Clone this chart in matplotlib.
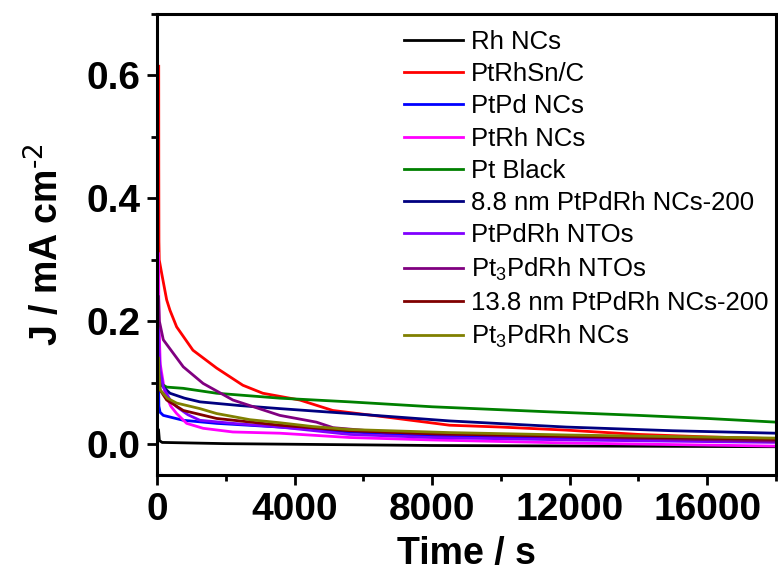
import numpy as np
import matplotlib
matplotlib.use("Agg")
import matplotlib.pyplot as plt
from matplotlib.ticker import MultipleLocator

plt.rcParams['font.family'] = ['Liberation Sans', 'DejaVu Sans']
plt.rcParams['mathtext.default'] = 'regular'

# --- data (time in s, current density in mA cm^-2) ---
labels = ["Rh NCs", "PtRhSn/C", "PtPd NCs", "PtRh NCs", "Pt Black",
          "8.8 nm PtPdRh NCs-200", "PtPdRh NTOs", "Pt$_3$PdRh NTOs",
          "13.8 nm PtPdRh NCs-200", "Pt$_3$PdRh NCs"]
colors = ["#000000", "#FF0000", "#0000FF", "#FF00FF", "#008000",
          "#000080", "#8000FF", "#800080", "#800000", "#808000"]

t_rh = [45, 70, 150, 2000, 8000, 18000]
j_rh = [0.023, 0.006, 0.003, 0.001, -0.002, -0.004]

t_ptrhsn = [50, 52, 56, 65, 136, 281, 377, 571, 1045, 1733, 2497, 3077,
            4151, 5110, 6560, 8506, 10000, 11900, 14000, 16000, 18000]
j_ptrhsn = [0.615, 0.45, 0.33, 0.30, 0.278, 0.235, 0.218, 0.191, 0.153, 0.124,
            0.096, 0.083, 0.072, 0.055, 0.045, 0.031, 0.028, 0.023,
            0.016, 0.012, 0.009]

t_ptpd = [45, 55, 90, 183, 764, 1733, 3570, 5600, 8000, 12000, 15000, 18000]
j_ptpd = [0.10, 0.062, 0.052, 0.047, 0.039, 0.034, 0.028, 0.020,
          0.014, 0.010, 0.008, 0.006]

t_ptrh = [45, 55, 95, 232, 400, 571, 862, 1340, 2206, 3570, 5600, 8000, 12000, 18000]
j_ptrh = [0.31, 0.20, 0.13, 0.083, 0.062, 0.050, 0.034, 0.026, 0.020, 0.018,
          0.011, 0.007, 0.002, -0.003]

t_ptblack = [45, 70, 281, 764, 1733, 3570, 5603, 8000, 11300, 14000, 16000, 18000]
j_ptblack = [0.14, 0.10, 0.093, 0.091, 0.083, 0.075, 0.069, 0.061,
             0.053, 0.047, 0.042, 0.036]

t_nc88 = [45, 70, 150, 377, 800, 1248, 2400, 3570, 5603, 8500, 11900, 15000, 18000]
j_nc88 = [0.14, 0.11, 0.095, 0.083, 0.075, 0.069, 0.063, 0.058, 0.050, 0.038,
          0.028, 0.022, 0.018]

t_nto = [45, 60, 95, 183, 371, 571, 900, 1248, 2206, 3570, 5600, 8000, 12000, 18000]
j_nto = [0.20, 0.15, 0.12, 0.093, 0.073, 0.061, 0.048, 0.039, 0.034, 0.028,
         0.016, 0.011, 0.007, 0.003]

t_pt3nto = [45, 70, 183, 764, 1340, 2206, 3570, 4635, 5119, 6570, 8000, 12000, 18000]
j_pt3nto = [0.24, 0.20, 0.170, 0.126, 0.099, 0.072, 0.047, 0.036,
            0.027, 0.020, 0.017, 0.012, 0.005]

t_nc138 = [45, 70, 281, 764, 1733, 3570, 5600, 8000, 12000, 18000]
j_nc138 = [0.12, 0.09, 0.072, 0.055, 0.042, 0.031, 0.022, 0.017, 0.013, 0.008]

t_pt3nc = [45, 55, 100, 300, 571, 1248, 1733, 2700, 3570, 4500, 5600, 8500, 12000, 18000]
j_pt3nc = [0.14, 0.115, 0.088, 0.075, 0.067, 0.058, 0.050, 0.040, 0.035,
           0.029, 0.024, 0.019, 0.015, 0.010]

times = [t_rh, t_ptrhsn, t_ptpd, t_ptrh, t_ptblack, t_nc88, t_nto, t_pt3nto, t_nc138, t_pt3nc]
currents = [j_rh, j_ptrhsn, j_ptpd, j_ptrh, j_ptblack, j_nc88, j_nto, j_pt3nto, j_nc138, j_pt3nc]

fig = plt.figure(figsize=(7.78, 5.78), dpi=100)
ax = fig.add_axes([157 / 778, 103 / 578, 619 / 778, 461 / 578])

for t, j, c, lab in zip(times, currents, colors, labels):
    ax.plot(t, j, color=c, lw=2, label=lab)

ax.set_xlim(0, 18000)
ax.set_ylim(-0.05, 0.70)
ax.xaxis.set_major_locator(MultipleLocator(4000))
ax.xaxis.set_minor_locator(MultipleLocator(2000))
ax.yaxis.set_minor_locator(MultipleLocator(0.1))
ax.set_yticks([0.0, 0.2, 0.4, 0.6])
ax.set_yticklabels(["0.0", "0.2", "0.4", "0.6"])

ax.tick_params(which='major', direction='out', length=7, width=2, labelsize=28, pad=5)
ax.tick_params(which='minor', direction='out', length=4, width=2)
for lab in ax.get_xticklabels() + ax.get_yticklabels():
    lab.set_fontweight('bold')
for sp in ax.spines.values():
    sp.set_linewidth(2.2)

ax.set_xlabel("Time / s", fontsize=27, fontweight='bold', labelpad=6)
ax.set_ylabel("J / mA cm$^{\\text{-2}}$", fontsize=27, fontweight='bold', labelpad=14)

ax.legend(loc='upper left', bbox_to_anchor=(404 / 778, (578 - 30) / 578),
          bbox_transform=fig.transFigure, frameon=False, fontsize=18.5,
          handlelength=2.3, handletextpad=0.3, labelspacing=0.32,
          borderpad=0, borderaxespad=0)

fig.savefig("out.png", dpi=100)
